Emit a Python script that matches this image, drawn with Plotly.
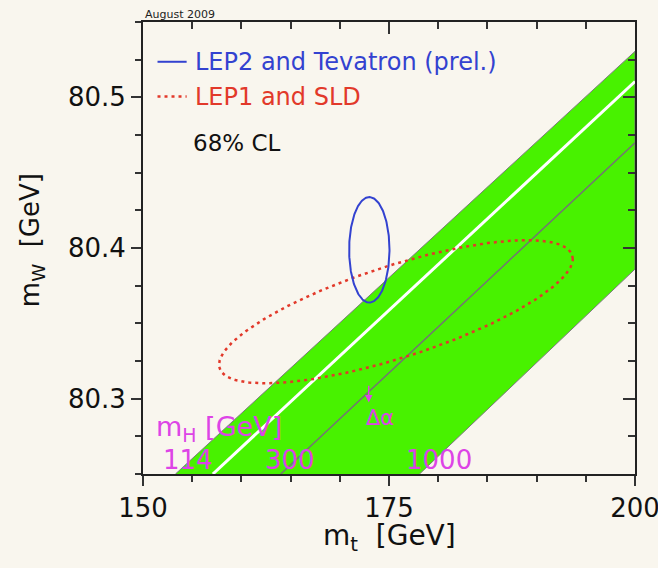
import numpy as np
import plotly.graph_objects as go

# ---------------- data ----------------
# SM band edges / lines of constant mH (mt in GeV, mW in GeV)
edge114_mt = [153.3, 200.0]
edge114_mw = [80.250, 80.5305]
white_mt = [157.1, 200.0]
white_mw = [80.250, 80.5105]
line300_mt = [164.0, 200.0]
line300_mw = [80.250, 80.4698]
edge1000_mt = [178.1, 200.0]
edge1000_mw = [80.250, 80.386]

# 68% CL contours: centre, half-extents, correlation
lep2_centre = (173.0, 80.3988)
lep2_half = (2.05, 0.0350)
lep2_rho = 0.0
lep1_centre = (175.7, 80.3577)
lep1_half = (17.98, 0.0475)
lep1_rho = 0.74

mh_labels = ["114", "300", "1000"]
mh_label_mt = [154.6, 164.9, 180.1]

x_range = [150, 200]
y_range = [80.25, 80.55]

# ---------------- styles ----------------
BG = "#f9f6ee"
GREEN = "#48f200"
BLUE = "#3342d0"
RED = "#e2392a"
MAG = "#dd44e6"
FONT = "DejaVu Sans, Liberation Sans, Arial, sans-serif"
NB = "\u00a0"


def contour(centre, half, rho, n=240):
    t = np.linspace(0, 2 * np.pi, n)
    x = centre[0] + half[0] * np.cos(t)
    y = centre[1] + half[1] * (rho * np.cos(t) + np.sqrt(1 - rho ** 2) * np.sin(t))
    return x, y


fig = go.Figure()

# green band
band_x = edge114_mt + edge1000_mt[::-1]
band_y = edge114_mw + edge1000_mw[::-1]
fig.add_trace(go.Scatter(x=band_x, y=band_y, fill="toself", fillcolor=GREEN,
                         mode="lines", line=dict(color="#7a7a7a", width=1),
                         hoverinfo="skip", showlegend=False))
fig.add_trace(go.Scatter(x=white_mt, y=white_mw, mode="lines",
                         line=dict(color="#ffffff", width=3), showlegend=False))
fig.add_trace(go.Scatter(x=line300_mt, y=line300_mw, mode="lines",
                         line=dict(color="#747474", width=1.5), showlegend=False))

# contours
lx, ly = contour(lep1_centre, lep1_half, lep1_rho)
fig.add_trace(go.Scatter(x=lx, y=ly, mode="lines", name="LEP1 and SLD",
                         line=dict(color=RED, width=2.5, dash="3px,4px"), showlegend=False))
bx, by = contour(lep2_centre, lep2_half, lep2_rho)
fig.add_trace(go.Scatter(x=bx, y=by, mode="lines", name="LEP2 and Tevatron (prel.)",
                         line=dict(color=BLUE, width=2), showlegend=False))

# dummy trace for mirrored axes
fig.add_trace(go.Scatter(x=[None], y=[None], xaxis="x2", yaxis="y2",
                         showlegend=False, hoverinfo="skip"))

axis_common = dict(showgrid=False, zeroline=False, showline=True, linecolor="#222222",
                   linewidth=2, tickcolor="#333333", tickwidth=1.5,
                   tickfont=dict(family=FONT, size=26, color="#111111"))

fig.update_layout(
    width=658, height=568, autosize=False,
    margin=dict(l=143, r=23, t=22, b=94, autoexpand=False),
    paper_bgcolor=BG, plot_bgcolor=BG,
    showlegend=False,
    xaxis=dict(range=x_range, tick0=150, dtick=25, ticks="outside", ticklen=10,
               ticklabeloverflow="allow",
               minor=dict(dtick=5, ticklen=6, ticks="outside", tickcolor="#333333"),
               **axis_common),
    yaxis=dict(range=y_range, tick0=80.3, dtick=0.1, ticks="outside", ticklen=10,
               tickformat=".1f", ticklabeloverflow="allow",
               minor=dict(dtick=0.025, tick0=80.3, ticklen=6, ticks="outside", tickcolor="#333333"),
               **axis_common),
    xaxis2=dict(range=x_range, overlaying="x", side="top", anchor="y", tick0=150, dtick=25,
                ticks="inside", ticklen=12, showticklabels=False,
                minor=dict(dtick=5, ticklen=7, ticks="inside", tickcolor="#333333"),
                **axis_common),
    yaxis2=dict(range=y_range, overlaying="y", side="right", anchor="x", tick0=80.3, dtick=0.1,
                ticks="inside", ticklen=12, showticklabels=False,
                minor=dict(dtick=0.025, tick0=80.3, ticklen=7, ticks="inside", tickcolor="#333333"),
                **axis_common),
)

ann = []
# axis titles
ann.append(dict(text="m<sub>t</sub>" + NB + NB + "[GeV]", xref="paper", yref="paper", x=0.50, y=-0.141,
                xanchor="center", yanchor="middle", showarrow=False,
                font=dict(family=FONT, size=28, color="#111111")))
ann.append(dict(text="m<sub>W</sub>" + NB + NB + "[GeV]", xref="paper", yref="paper", x=-0.225, y=0.518,
                xanchor="center", yanchor="middle", showarrow=False, textangle=-90,
                font=dict(family=FONT, size=26, color="#111111")))
# date
ann.append(dict(text="August 2009", xref="paper", yref="paper", x=0.0, y=1.016,
                xanchor="left", yanchor="middle", showarrow=False,
                font=dict(family=FONT, size=11, color="#222222")))
# legend texts
ann.append(dict(text="LEP2 and Tevatron (prel.)", xref="paper", yref="paper", x=0.101, y=0.912,
                xanchor="left", yanchor="middle", showarrow=False,
                font=dict(family=FONT, size=24, color=BLUE)))
ann.append(dict(text="LEP1 and SLD", xref="paper", yref="paper", x=0.101, y=0.835,
                xanchor="left", yanchor="middle", showarrow=False,
                font=dict(family=FONT, size=24, color=RED)))
ann.append(dict(text="68% CL", xref="paper", yref="paper", x=0.097, y=0.733,
                xanchor="left", yanchor="middle", showarrow=False,
                font=dict(family=FONT, size=23, color="#111111")))
# mH labels
ann.append(dict(text="m<sub>H</sub>" + NB + "[GeV]", x=151.1, y=80.2805, xanchor="left", yanchor="middle",
                showarrow=False, font=dict(family=FONT, size=27, color=MAG)))
for lab, mt in zip(mh_labels, mh_label_mt):
    ann.append(dict(text=lab, x=mt, y=80.2595, xanchor="center", yanchor="middle",
                    showarrow=False, font=dict(family=FONT, size=26, color=MAG)))
# delta alpha arrow
ann.append(dict(text="", x=172.94, y=80.2975, ax=172.94, ay=80.3095, axref="x", ayref="y",
                showarrow=True, arrowhead=2, arrowsize=1, arrowwidth=1.5, arrowcolor=MAG))
ann.append(dict(text="Δα", x=174.06, y=80.2873, xanchor="center", yanchor="middle",
                showarrow=False, font=dict(family=FONT, size=21, color=MAG)))
fig.update_layout(annotations=ann)

# legend samples
fig.add_shape(type="line", xref="paper", yref="paper", x0=0.0295, x1=0.0887, y0=0.912, y1=0.912,
              line=dict(color=BLUE, width=2))
fig.add_shape(type="line", xref="paper", yref="paper", x0=0.0295, x1=0.0887, y0=0.835, y1=0.835,
              line=dict(color=RED, width=2.5, dash="3px,4px"))

fig.write_html("out.html")
